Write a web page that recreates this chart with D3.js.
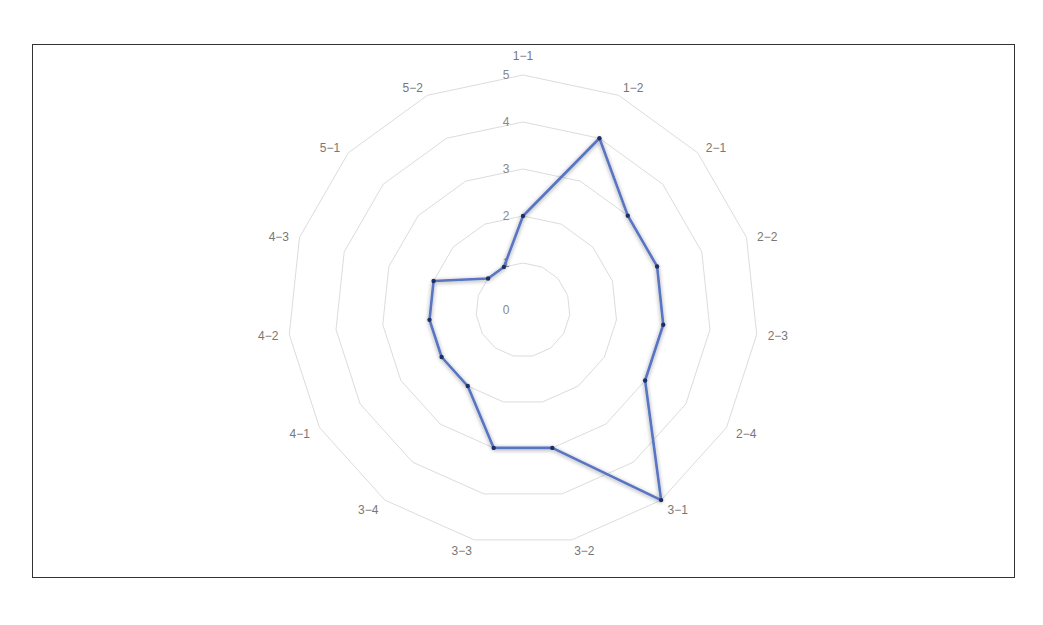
<!DOCTYPE html>
<html>
<head>
<meta charset="utf-8">
<script src="https://cdn.jsdelivr.net/npm/d3@7.9.0/dist/d3.min.js"></script>
<style>
  html, body { margin: 0; padding: 0; background: #fff; }
  svg { display: block; }
</style>
</head>
<body>
<svg id="chart" width="1043" height="625"></svg>
<script>
// ── Data ───────────────────────────────────────────────────────────────────
var axes   = ["1\u22121", "1\u22122", "2\u22121", "2\u22122", "2\u22123", "2\u22124",
              "3\u22121", "3\u22122", "3\u22123", "3\u22124", "4\u22121", "4\u22122",
              "4\u22123", "5\u22121", "5\u22122"];
var values = [2, 4, 3, 3, 3, 3, 5, 3, 3, 2, 2, 2, 2, 1, 1];
var levels = [0, 1, 2, 3, 4, 5];

// ── Geometry ───────────────────────────────────────────────────────────────
var CX = 523, CY = 310, R = 235;
var FONT = "'Liberation Sans', Arial, sans-serif";

var svg = d3.select("#chart");

// frame
svg.append("rect")
  .attr("x", 32.5).attr("y", 44.5)
  .attr("width", 982).attr("height", 533)
  .attr("fill", "none")
  .attr("stroke", "#333")
  .attr("stroke-width", 1);

var r = d3.scaleLinear().domain([0, 5]).range([0, R]);
var ang = d3.scaleLinear().domain([0, axes.length]).range([0, 2 * Math.PI]);

function pt(i, v) {
  var a = ang(i);
  return [CX + r(v) * Math.sin(a), CY - r(v) * Math.cos(a)];
}

var defs = svg.append("defs");
var f = defs.append("filter").attr("id", "shadow")
  .attr("x", "-20%").attr("y", "-20%").attr("width", "140%").attr("height", "140%");
f.append("feGaussianBlur").attr("in", "SourceAlpha").attr("stdDeviation", 2.2).attr("result", "b");
f.append("feOffset").attr("in", "b").attr("dx", 0).attr("dy", 1).attr("result", "o");
f.append("feComponentTransfer").attr("in", "o").attr("result", "s")
  .append("feFuncA").attr("type", "linear").attr("slope", 0.4);
var fm = f.append("feMerge");
fm.append("feMergeNode").attr("in", "s");
fm.append("feMergeNode").attr("in", "SourceGraphic");

// ── Grid rings ─────────────────────────────────────────────────────────────
var ring = d3.line();
svg.append("g").selectAll("path")
  .data(levels.filter(function (l) { return l > 0; }))
  .enter().append("path")
  .attr("d", function (l) {
    return ring(axes.map(function (_, i) { return pt(i, l); })) + "Z";
  })
  .attr("fill", "none")
  .attr("stroke", "#dcdcdc")
  .attr("stroke-width", 1);

// ── Axis names ─────────────────────────────────────────────────────────────
var NR = R + 11;
svg.append("g").selectAll("text")
  .data(axes)
  .enter().append("text")
  .attr("x", function (d, i) { return CX + NR * Math.sin(ang(i)); })
  .attr("y", function (d, i) { return CY - NR * Math.cos(ang(i)); })
  .attr("text-anchor", function (d, i) {
    var s = Math.sin(ang(i));
    return Math.abs(s) < 1e-6 ? "middle" : (s > 0 ? "start" : "end");
  })
  .attr("dy", function (d, i) {
    var c = Math.cos(ang(i));
    if (Math.abs(Math.sin(ang(i))) < 1e-6) return c > 0 ? -4 : 12;
    return 4.2 + (c > 0.2 ? 2.5 : 0.5);
  })
  .attr("fill", "#777")
  .attr("font-size", "12px")
  .attr("font-family", FONT)
  .text(function (d) { return d; });

// ── Radial tick labels ─────────────────────────────────────────────────────
svg.append("g").selectAll("text")
  .data(levels)
  .enter().append("text")
  .attr("x", CX - 17)
  .attr("y", function (l) { return CY - r(l); })
  .attr("dy", "0.35em")
  .attr("text-anchor", "middle")
  .attr("fill", "#888")
  .attr("font-size", "12px")
  .attr("font-family", FONT)
  .text(function (l) { return l; });

// ── Series ─────────────────────────────────────────────────────────────────
var pts = values.map(function (v, i) { return pt(i, v); });

svg.append("path")
  .attr("d", d3.line()(pts) + "Z")
  .attr("fill", "none")
  .attr("stroke", "#5874c4")
  .attr("stroke-width", 2.6)
  .attr("stroke-linejoin", "round")
  .attr("filter", "url(#shadow)");

svg.append("g").selectAll("circle")
  .data(pts)
  .enter().append("circle")
  .attr("cx", function (p) { return p[0]; })
  .attr("cy", function (p) { return p[1]; })
  .attr("r", 2.2)
  .attr("fill", "#1f2f66");
</script>
</body>
</html>
